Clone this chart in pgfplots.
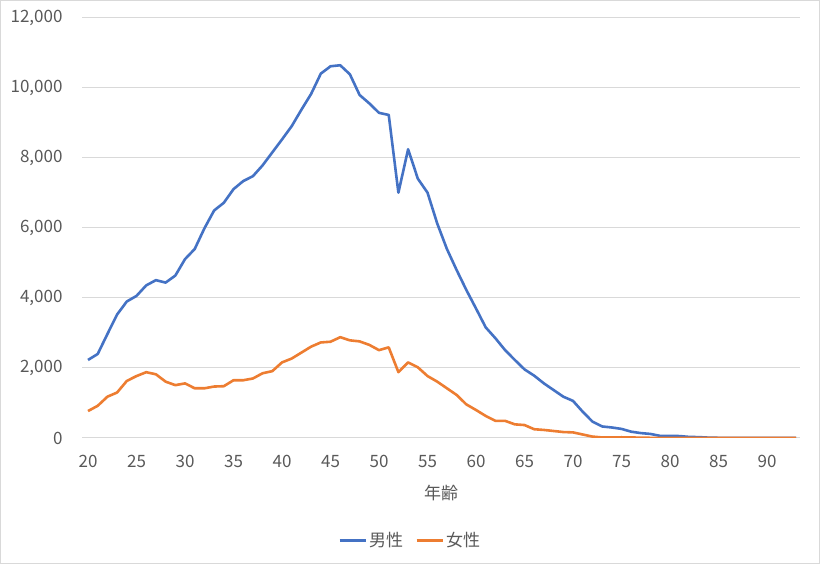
\documentclass[border=0pt]{standalone}
\usepackage{fontspec}
\setmainfont{Noto Sans CJK JP}
\usepackage{pgfplots}
\pgfplotsset{compat=1.18}

\definecolor{txtgray}{HTML}{595959}
\definecolor{gridgray}{HTML}{D9D9D9}
\definecolor{exblue}{HTML}{4472C4}
\definecolor{exorange}{HTML}{ED7D31}

\begin{document}
\begin{tikzpicture}
% chart area frame (1pt = 1px of the reference)
\draw[gridgray, line width=1pt] (0.5pt,0.5pt) rectangle (819.5pt,563.5pt);
\begin{axis}[
    at={(82pt,126pt)}, anchor=south west,
    scale only axis,
    width=718pt, height=420pt,
    xmin=19.38, xmax=93.4,
    ymin=0, ymax=12000,
    axis line style={draw=none},
    axis x line*=bottom,
    axis y line*=left,
    tick style={draw=none},
    xtick={20,25,...,90},
    ytick={0,2000,...,12000},
    scaled y ticks=false,
    ymajorgrids,
    grid style={gridgray, line width=1pt},
    font=\fontsize{17}{20}\selectfont,
    tick label style={text=txtgray, font=\fontsize{17}{20}\selectfont},
    /pgf/number format/assume math mode=true,
    /pgf/number format/1000 sep={,},
    yticklabel style={xshift=-16pt},
    xticklabel style={yshift=-14pt},
    xlabel={年齢},
    xlabel style={text=txtgray, at={(axis description cs:0.5,-0.131)}, anchor=center},
    legend columns=2,
    legend style={draw=none, fill=none, at={(0.457,-0.243)}, anchor=center,
        text=txtgray, font=\fontsize{17}{20}\selectfont,
        /tikz/every even column/.append style={column sep=10pt}},
    legend image code/.code={\draw[#1, line width=3pt] (0pt,0pt) -- (26pt,0pt);},
    every axis plot/.append style={line width=2.6pt, line join=round, mark=none},
]
\addplot[exblue] coordinates {
(20,2230) (21,2400) (22,2970) (23,3530) (24,3900) (25,4060) (26,4360) (27,4510)
(28,4440) (29,4640) (30,5110) (31,5400) (32,5990) (33,6500) (34,6720) (35,7110)
(36,7340) (37,7480) (38,7790) (39,8160) (40,8530) (41,8910) (42,9380) (43,9830)
(44,10410) (45,10620) (46,10650) (47,10390) (48,9800) (49,9560) (50,9290) (51,9230)
(52,7010) (53,8250) (54,7410) (55,7010) (56,6130) (57,5400) (58,4800) (59,4230)
(60,3700) (61,3160) (62,2850) (63,2510) (64,2230) (65,1960) (66,1780) (67,1560)
(68,1370) (69,1180) (70,1060) (71,750) (72,470) (73,330) (74,300) (75,260)
(76,180) (77,140) (78,115) (79,60) (80,60) (81,55) (82,30) (83,25)
(84,10) (85,5) (86,3) (87,2) (88,1) (89,1) (90,0) (91,0) (92,0) (93,0)
};
\addlegendentry{男性}
\addplot[exorange] coordinates {
(20,770) (21,920) (22,1180) (23,1300) (24,1630) (25,1770) (26,1880) (27,1820)
(28,1610) (29,1510) (30,1560) (31,1420) (32,1420) (33,1470) (34,1480) (35,1650)
(36,1650) (37,1700) (38,1850) (39,1910) (40,2160) (41,2270) (42,2440) (43,2610)
(44,2730) (45,2750) (46,2880) (47,2790) (48,2760) (49,2660) (50,2510) (51,2590)
(52,1880) (53,2160) (54,2020) (55,1770) (56,1610) (57,1420) (58,1230) (59,960)
(60,800) (61,630) (62,490) (63,490) (64,390) (65,370) (66,250) (67,230)
(68,200) (69,170) (70,160) (71,100) (72,40) (73,15) (74,15) (75,20)
(76,15) (77,10) (78,5) (79,5) (80,3) (81,2) (82,2) (83,1)
(84,1) (85,0) (86,0) (87,0) (88,0) (89,0) (90,0) (91,0) (92,0) (93,0)
};
\addlegendentry{女性}
\end{axis}
\end{tikzpicture}
\end{document}
